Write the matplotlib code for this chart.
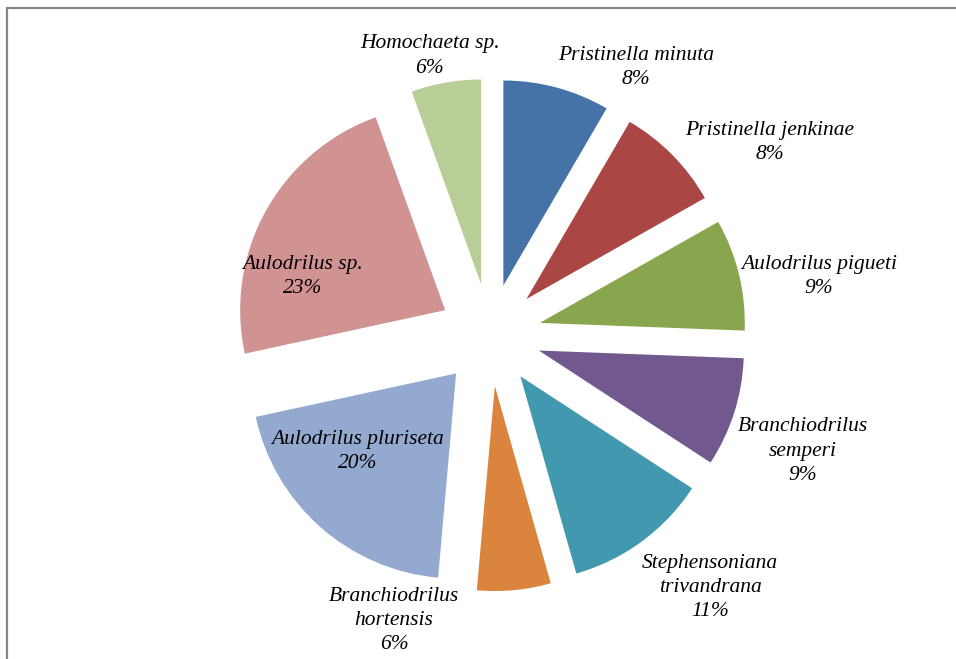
import numpy as np
import matplotlib.pyplot as plt
from matplotlib.patches import Rectangle

# slices, clockwise from 12 o'clock
species = ['Pristinella minuta', 'Pristinella jenkinae', 'Aulodrilus pigueti',
           'Branchiodrilus semperi', 'Stephensoniana trivandrana',
           'Branchiodrilus hortensis', 'Aulodrilus pluriseta', 'Aulodrilus sp.',
           'Homochaeta sp.']
shares = [8.4, 8.4, 8.8, 8.6, 11.4, 5.8, 20.2, 22.9, 5.5]
# how each label is broken over lines
label_names = ['Pristinella minuta', 'Pristinella jenkinae', 'Aulodrilus pigueti',
               'Branchiodrilus\nsemperi', 'Stephensoniana\ntrivandrana',
               'Branchiodrilus\nhortensis', 'Aulodrilus pluriseta', 'Aulodrilus sp.',
               'Homochaeta sp.']

colors = ['#4572A7', '#AA4643', '#89A54E', '#71588F', '#4198AF',
          '#DB843D', '#93A9CF', '#D19392', '#B9CD96']

# label centres, in pie radii from the pie centre
label_pos = [(0.712, 1.306), (1.366, 0.939), (1.605, 0.285), (1.527, -0.566),
             (1.073, -1.232), (-0.468, -1.393), (-0.644, -0.566), (-0.912, 0.285),
             (-0.293, 1.361)]

W, H = 956, 659
R = 205.0          # pie radius in pixels
cx, cy = 490, 335  # pie centre in pixels (from top-left)

fig = plt.figure(figsize=(W / 100, H / 100), dpi=100)
ax = fig.add_axes([0, 0, 1, 1])

ax.pie(shares, explode=[0.25] * len(shares), colors=colors, startangle=90,
       counterclock=False, radius=1, wedgeprops=dict(linewidth=0))

ax.set_xlim(-cx / R, (W - cx) / R)
ax.set_ylim(-(H - cy) / R, cy / R)
ax.set_aspect('equal')
ax.axis('off')

for name, val, (lx, ly) in zip(label_names, shares, label_pos):
    ax.text(lx, ly, f'{name}\n{round(val):d}%', ha='center', va='center',
            fontsize=15.5, fontstyle='italic', family='Liberation Serif',
            linespacing=1.36, color='black')

# chart frame (only left and top edges show)
fig.add_artist(Rectangle((7 / W, -0.2), 1.2, 1.2 - 8 / H, transform=fig.transFigure,
                         fill=False, edgecolor='#878787', linewidth=1.6))

fig.savefig('out.png', dpi=100)
